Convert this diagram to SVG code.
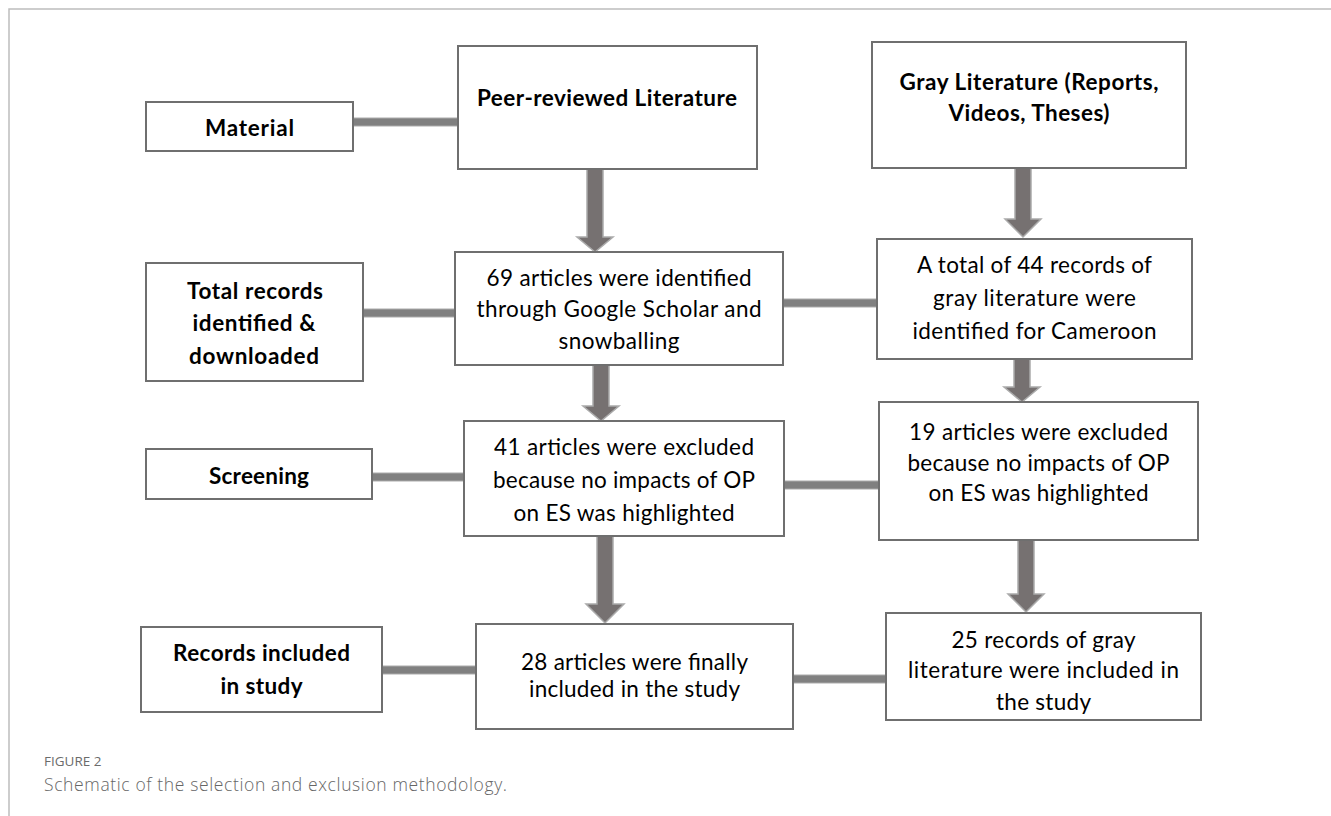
<svg xmlns="http://www.w3.org/2000/svg" width="1331" height="816" viewBox="0 0 1331 816">
<style>
.box{fill:#fff;stroke:#6f6f6f;stroke-width:2}
.t{font-family:Lato,"Liberation Sans",sans-serif;font-size:22.5px;fill:#000;text-anchor:middle}
.b{font-weight:700}
.conn{fill:#808080;stroke:#ababab;stroke-width:1}
.arr{fill:#767171;stroke:#ababab;stroke-width:1.5;stroke-linejoin:miter}
.cap1{font-family:"Open Sans","Liberation Sans",sans-serif;font-size:13.5px;fill:#6b6b6b}
.cap2{font-family:"Open Sans","Liberation Sans",sans-serif;font-size:17.5px;font-weight:300;fill:#666}
</style>
<rect width="1331" height="816" fill="#fff"/>
<path d="M9,816 V9 H1331" fill="none" stroke="#bdbdbd" stroke-width="1.5"/>

<g id="connectors">
<rect class="conn" x="353" y="118" width="105" height="8"/>
<rect class="conn" x="363" y="309" width="92" height="8"/>
<rect class="conn" x="783" y="299" width="94" height="8"/>
<rect class="conn" x="372" y="473" width="92" height="8"/>
<rect class="conn" x="784" y="481" width="95" height="8"/>
<rect class="conn" x="382" y="666" width="94" height="8"/>
<rect class="conn" x="793" y="675" width="93" height="8"/>
<polygon class="arr" points="587,169 603,169 603,237 613,237 595,252 577,237 587,237"/>
<polygon class="arr" points="1015,168 1031,168 1031,219 1041,219 1023,237 1005,219 1015,219"/>
<polygon class="arr" points="593,365 609,365 609,406 619,406 601,421 583,406 593,406"/>
<polygon class="arr" points="1014,359 1030,359 1030,387 1040,387 1022,402 1004,387 1014,387"/>
<polygon class="arr" points="597,536 613,536 613,604 624,604 605,623 586,604 597,604"/>
<polygon class="arr" points="1018,540 1034,540 1034,594 1044,594 1026,612 1008,594 1018,594"/>
</g>

<g id="material">
<rect class="box" x="146" y="102" width="207" height="49"/>
<text class="t b" x="249.5" y="136" textLength="89">Material</text>
</g>
<g id="peer">
<rect class="box" x="458" y="46" width="299" height="123"/>
<text class="t b" x="607" y="106" textLength="260">Peer-reviewed Literature</text>
</g>
<g id="gray">
<rect class="box" x="872" y="42" width="314" height="126"/>
<text class="t b" x="1029" y="90" textLength="259">Gray Literature (Reports,</text>
<text class="t b" x="1029" y="121" textLength="161">Videos, Theses)</text>
</g>
<g id="total">
<rect class="box" x="146" y="263" width="217" height="118"/>
<text class="t b" x="255" y="299" textLength="136">Total records</text>
<text class="t b" x="254" y="331" textLength="123">identified &amp;</text>
<text class="t b" x="254" y="364" textLength="130">downloaded</text>
</g>
<g id="identified69">
<rect class="box" x="455" y="252" width="328" height="113"/>
<text class="t" x="619" y="286" textLength="265">69 articles were identified</text>
<text class="t" x="619" y="317" textLength="285">through Google Scholar and</text>
<text class="t" x="619" y="349" textLength="121">snowballing</text>
</g>
<g id="gray44">
<rect class="box" x="877" y="239" width="315" height="120"/>
<text class="t" x="1034.5" y="273" textLength="235">A total of 44 records of</text>
<text class="t" x="1034.5" y="306" textLength="203">gray literature were</text>
<text class="t" x="1034.5" y="339" textLength="244">identified for Cameroon</text>
</g>
<g id="screening">
<rect class="box" x="146" y="449" width="226" height="50"/>
<text class="t b" x="259" y="484" textLength="100">Screening</text>
</g>
<g id="excluded41">
<rect class="box" x="464" y="421" width="320" height="115"/>
<text class="t" x="624" y="455" textLength="260">41 articles were excluded</text>
<text class="t" x="624" y="488" textLength="262">because no impacts of OP</text>
<text class="t" x="624" y="521" textLength="221">on ES was highlighted</text>
</g>
<g id="excluded19">
<rect class="box" x="879" y="402" width="319" height="138"/>
<text class="t" x="1038.5" y="440" textLength="259">19 articles were excluded</text>
<text class="t" x="1038.5" y="471" textLength="262">because no impacts of OP</text>
<text class="t" x="1038.5" y="501" textLength="220">on ES was highlighted</text>
</g>
<g id="records">
<rect class="box" x="141" y="627" width="241" height="85"/>
<text class="t b" x="261.5" y="661" textLength="177">Records included</text>
<text class="t b" x="261.5" y="694" textLength="82">in study</text>
</g>
<g id="included28">
<rect class="box" x="476" y="624" width="317" height="105"/>
<text class="t" x="634.5" y="670" textLength="227">28 articles were finally</text>
<text class="t" x="634.5" y="697" textLength="211">included in the study</text>
</g>
<g id="included25">
<rect class="box" x="886" y="613" width="315" height="107"/>
<text class="t" x="1043.5" y="648" textLength="184">25 records of gray</text>
<text class="t" x="1043.5" y="678" textLength="271">literature were included in</text>
<text class="t" x="1043.5" y="710" textLength="95">the study</text>
</g>

<g id="caption">
<text class="cap1" x="44" y="766">FIGURE 2</text>
<text class="cap2" x="44" y="791" textLength="463">Schematic of the selection and exclusion methodology.</text>
</g>
</svg>
